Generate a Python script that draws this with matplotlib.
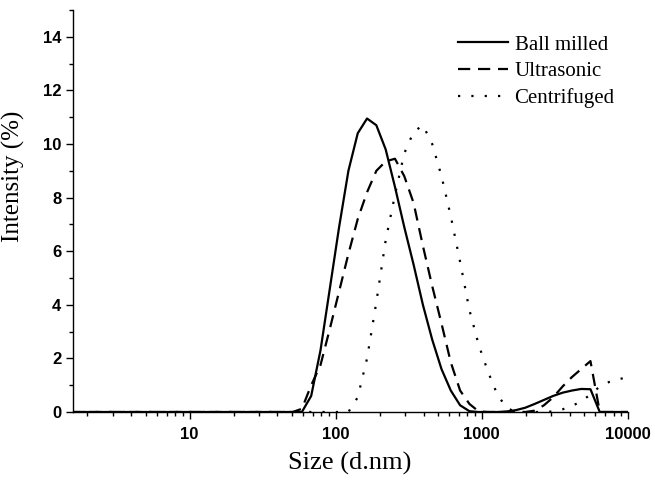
import numpy as np
from matplotlib import pyplot as plt
from matplotlib.ticker import LogLocator, MultipleLocator, NullFormatter, FixedLocator, FixedFormatter

# DLS size bins (d.nm)
size_nm = [1.499, 1.736, 2.010, 2.328, 2.696, 3.122, 3.615, 4.187, 4.849, 5.615,
           6.503, 7.531, 8.721, 10.10, 11.70, 13.54, 15.69, 18.17, 21.04, 24.36,
           28.21, 32.67, 37.84, 43.82, 50.75,
           58.77, 68.06, 78.82, 91.28, 105.7, 122.4, 141.8, 164.2, 190.1, 220.2,
           255.0, 295.3, 342.0, 396.1, 458.7, 531.2, 615.1, 712.4, 825.0, 955.4,
           1106, 1281, 1484, 1718, 1990, 2305, 2669, 3091, 3580, 4145,
           4801, 5560, 6439, 7456, 8635, 10000]

ball_milled = [0, 0, 0, 0, 0, 0, 0, 0, 0, 0,
               0, 0, 0, 0, 0, 0, 0, 0, 0, 0,
               0, 0, 0, 0, 0,
               0, 0.6, 2.3, 4.6, 6.9, 9.0, 10.4, 10.95, 10.7, 9.8,
               8.4, 6.9, 5.5, 4.0, 2.7, 1.6, 0.8, 0.25, 0.03, 0,
               0, 0, 0.02, 0.07, 0.16, 0.3, 0.45, 0.6, 0.72, 0.8,
               0.86, 0.85, 0, 0, 0, 0]

ultrasonic = [0, 0, 0, 0, 0, 0, 0, 0, 0, 0,
              0, 0, 0, 0, 0, 0, 0, 0, 0, 0,
              0, 0, 0, 0, 0,
              0.12, 1.0, 1.75, 3.1, 4.5, 5.9, 7.2, 8.2, 9.0, 9.35,
              9.45, 8.8, 7.8, 6.2, 4.7, 3.3, 1.85, 0.8, 0.3, 0.02,
              0, 0, 0, 0, 0, 0.05, 0.25, 0.55, 0.95, 1.3,
              1.6, 1.9, 0, 0, 0, 0]

centrifuged = [0, 0, 0, 0, 0, 0, 0, 0, 0, 0,
               0, 0, 0, 0, 0, 0, 0, 0, 0, 0,
               0, 0, 0, 0, 0,
               0, 0, 0, 0, 0, 0, 0.55, 2.0, 4.1, 6.4,
               8.1, 9.65, 10.45, 10.7, 10.0, 8.8, 7.3, 5.6, 3.8, 2.5,
               1.5, 0.65, 0.15, 0, 0, 0, 0, 0.02, 0.1, 0.22,
               0.4, 0.65, 0.95, 1.12, 1.22, 1.3]

x_ticks = [10, 100, 1000, 10000]
x_tick_labels = ['10', '100', '1000', '10000']
y_ticks = [0, 2, 4, 6, 8, 10, 12, 14]

serif = ['Liberation Serif', 'DejaVu Serif']
sans = ['Liberation Sans', 'DejaVu Sans']

fig = plt.figure(figsize=(6.55, 4.87), dpi=100)
ax = fig.add_axes([0.1107, 0.154, 0.8476, 0.8255])

ax.plot(size_nm, ball_milled, color='black', lw=1.6, linestyle='-', label='Ball milled')
ax.plot(size_nm, ultrasonic, color='black', lw=1.6, linestyle=(0, (5.5, 3.5)), label='Ultrasonic')
ax.plot(size_nm, centrifuged, color='black', lw=1.6, linestyle=(0, (1, 5)), label='Centrifuged')

ax.set_xscale('log')
ax.set_xlim(1.58, 10000)
ax.set_ylim(0, 15)

ax.xaxis.set_major_locator(FixedLocator(x_ticks))
ax.xaxis.set_major_formatter(FixedFormatter(x_tick_labels))
ax.xaxis.set_minor_locator(LogLocator(base=10, subs=np.arange(2, 10)))
ax.xaxis.set_minor_formatter(NullFormatter())
ax.yaxis.set_major_locator(FixedLocator(y_ticks))
ax.yaxis.set_minor_locator(MultipleLocator(1))

for side in ['top', 'right']:
    ax.spines[side].set_visible(False)
for side in ['left', 'bottom']:
    ax.spines[side].set_linewidth(1.0)

ax.tick_params(which='major', direction='out', length=5, width=1.0, pad=3)
ax.tick_params(which='minor', direction='out', length=3, width=1.0)
ax.tick_params(axis='x', which='major', pad=6)
for lab in ax.get_xticklabels() + ax.get_yticklabels():
    lab.set_family(sans)
    lab.set_fontweight('bold')
    lab.set_fontsize(12)

ax.set_xlabel('Size (d.nm)', family=serif, fontsize=19, labelpad=7)
ax.set_ylabel('Intensity (%)', family=serif, fontsize=18)
ax.yaxis.set_label_coords(-0.086, 0.587)

leg = ax.legend(loc='upper left', bbox_to_anchor=(0.68, 0.958), frameon=False,
                prop={'family': serif, 'size': 15}, handlelength=2.4,
                handletextpad=0.3, labelspacing=0.34, borderaxespad=0)

fig.savefig('out.png', dpi=100)
